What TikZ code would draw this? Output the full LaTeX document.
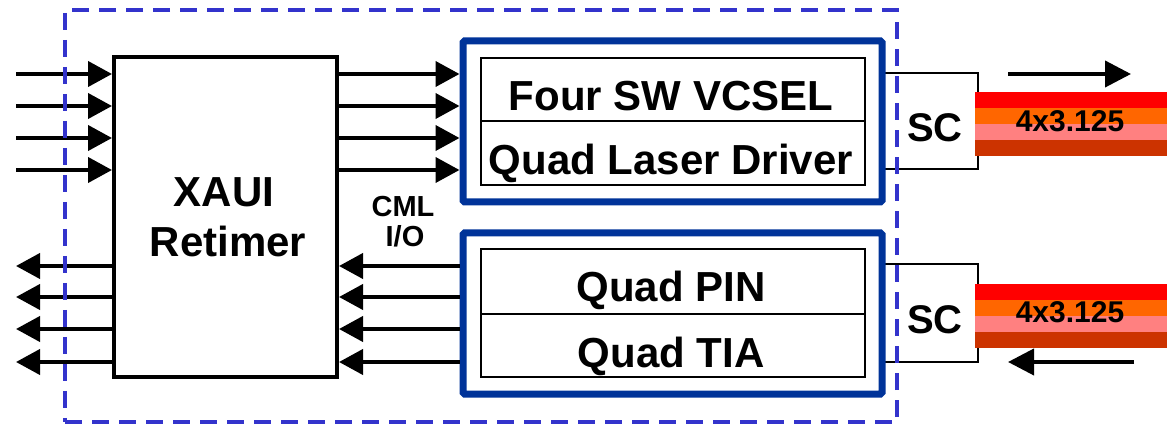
\documentclass[tikz,border=0pt]{standalone}
\usepackage{fontspec}
\setmainfont{Liberation Sans}
\usetikzlibrary{arrows.meta}
\definecolor{dashblue}{HTML}{3333CC}
\definecolor{boxblue}{HTML}{003399}
\definecolor{fred}{HTML}{FF0000}
\definecolor{forange}{HTML}{FF6600}
\definecolor{fpink}{HTML}{FF8080}
\definecolor{fdark}{HTML}{CC3300}
\begin{document}
\begin{tikzpicture}[x=1pt,y=-1pt,
  sig/.style={line width=4pt,-{Triangle[length=24pt,width=25pt]}},
  bigsig/.style={line width=4pt,-{Triangle[length=26pt,width=26pt]}},
  blk/.style={draw,line width=4pt,fill=white,inner sep=0pt},
  outerbox/.style={draw=boxblue,line width=7pt,fill=white,inner sep=0pt,rounded corners=1.5pt},
  innerbox/.style={draw,line width=1.8pt,inner sep=0pt},
  scbox/.style={draw,line width=1.8pt,fill=white,inner sep=0pt},
  biglbl/.style={font=\bfseries\fontsize{42}{48}\selectfont,anchor=base,inner sep=0pt},
  sclbl/.style={font=\bfseries\fontsize{40}{46}\selectfont,anchor=base,inner sep=0pt},
  ratelbl/.style={font=\bfseries\fontsize{30}{36}\selectfont,anchor=base,inner sep=0pt},
  smalllbl/.style={font=\bfseries\fontsize{29}{30}\selectfont,anchor=base,inner sep=0pt},
  module/.style={draw=dashblue,line width=3.8pt,dash pattern=on 17pt off 10pt,inner sep=0pt}]
\useasboundingbox (0,0) rectangle (1167,427);

% SC connectors
\node[scbox,minimum width=96pt,minimum height=96pt] (sc1) at (930,121) {};
\node[scbox,minimum width=96pt,minimum height=98pt] (sc2) at (930,313) {};
\node[sclbl] (sc1t) at (935,142) {SC};
\node[sclbl] (sc2t) at (935,334) {SC};

% fibres
\fill[fred] (975,92) rectangle (1167,108);
\fill[forange] (975,108) rectangle (1167,124);
\fill[fpink] (975,124) rectangle (1167,140);
\fill[fdark] (975,140) rectangle (1167,156);
\fill[fred] (975,284) rectangle (1167,300);
\fill[forange] (975,300) rectangle (1167,316);
\fill[fpink] (975,316) rectangle (1167,332);
\fill[fdark] (975,332) rectangle (1167,348);
\node[ratelbl] (r1) at (1070,132) {4x3.125};
\node[ratelbl] (r2) at (1070,323) {4x3.125};

% XAUI retimer
\node[blk,minimum width=223pt,minimum height=320pt] (xaui) at (225.5,217) {};
\node[biglbl] (xaui1) at (224,207) {XAUI};
\node[biglbl] (xaui2) at (228,257) {Retimer};

% transmit block
\node[outerbox,minimum width=419pt,minimum height=161pt] (tx) at (672.5,121.5) {};
\node[innerbox,minimum width=384pt,minimum height=63pt] (vcsel) at (673,89.5) {};
\node[innerbox,minimum width=384pt,minimum height=64pt] (drv) at (673,153) {};
\node[biglbl] (vcselt) at (671,111) {Four SW VCSEL};
\node[biglbl] (drvt) at (671,175) {Quad Laser Driver};

% receive block
\node[outerbox,minimum width=419pt,minimum height=161pt] (rx) at (672.5,313.5) {};
\node[innerbox,minimum width=384pt,minimum height=65pt] (pin) at (673,281.5) {};
\node[innerbox,minimum width=384pt,minimum height=63pt] (tia) at (673,345.5) {};
\node[biglbl] (pint) at (671,302) {Quad PIN};
\node[biglbl] (tiat) at (671,367) {Quad TIA};

% CML label
\node[smalllbl] (cml) at (403,217) {CML};
\node[smalllbl] (io) at (405,247) {I/O};

% signal lines
\foreach \y [count=\i] in {74,106,138,170}{
  \coordinate (in\i) at (16,\y);
  \draw[sig] (in\i) -- (in\i -| xaui.west);
  \coordinate (mt\i) at (xaui.east |- in\i);
  \draw[sig] (mt\i) -- (mt\i -| tx.west);
}
\foreach \y [count=\i] in {266,297,329,362}{
  \coordinate (out\i) at (16,\y);
  \draw[sig] (out\i -| xaui.west) -- (out\i);
  \coordinate (mb\i) at (rx.west |- out\i);
  \draw[sig] (mb\i) -- (mb\i -| xaui.east);
}

% optical direction arrows
\coordinate (ta1) at (1008,74);
\coordinate (ta2) at (1131,74);
\draw[bigsig] (ta1) -- (ta2);
\coordinate (ra1) at (1134,362);
\coordinate (ra2) at (1008,362);
\draw[bigsig] (ra1) -- (ra2);

% module outline
\node[module,minimum width=832pt,minimum height=412pt] (mod) at (481,216) {};
\end{tikzpicture}
\end{document}
